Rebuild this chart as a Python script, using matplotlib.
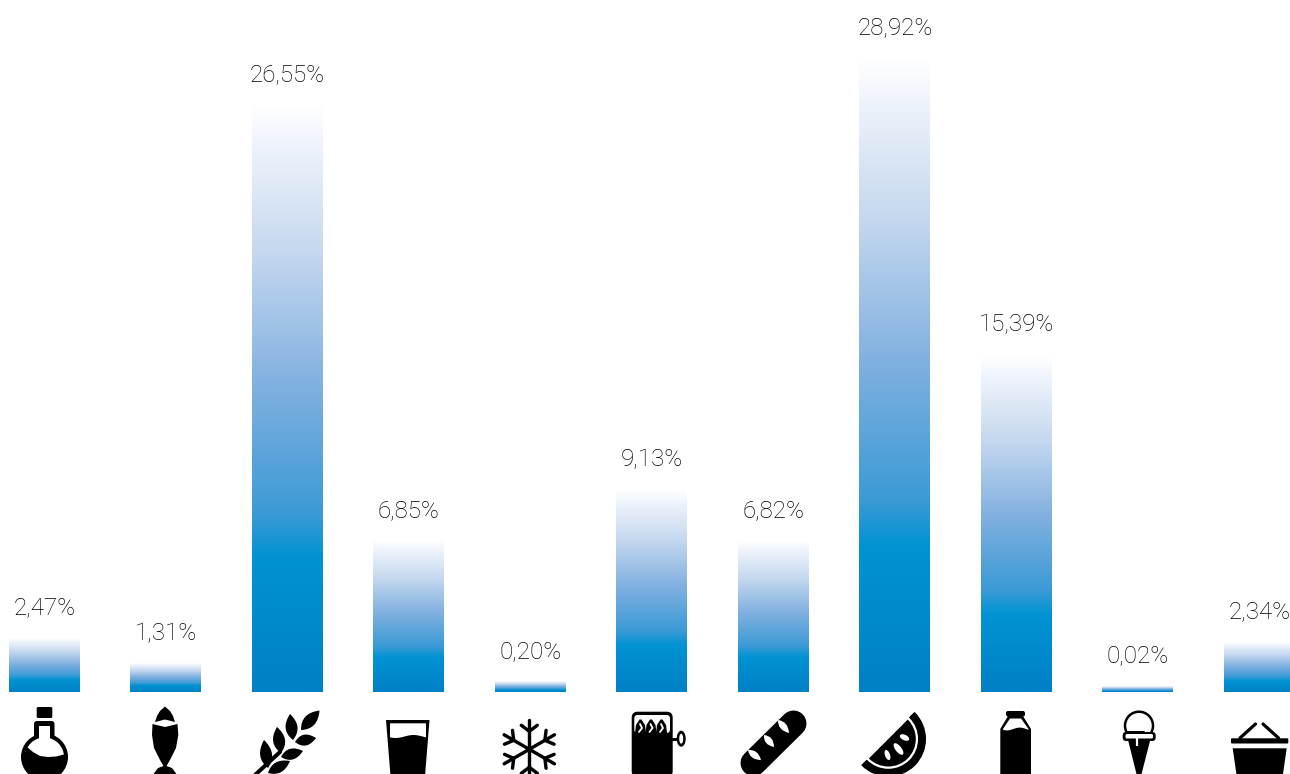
import numpy as np
import matplotlib
matplotlib.use("Agg")
import matplotlib.pyplot as plt
from matplotlib.colors import LinearSegmentedColormap
from matplotlib.patches import Circle, Ellipse, FancyBboxPatch, PathPatch, Polygon, Wedge
from matplotlib.path import Path

# --- data ---
categories = ["oil", "fish", "cereal", "drinks", "frozen", "tins", "bread",
              "fruit", "dairy", "ice cream", "other"]
values = [2.47, 1.31, 26.55, 6.85, 0.20, 9.13, 6.82, 28.92, 15.39, 0.02, 2.34]
# the drawn bars do not follow the printed numbers exactly, so heights are separate
bar_heights = [2.46, 1.28, 26.78, 6.89, 0.46, 9.22, 6.89, 28.92, 15.37, 0.27, 2.28]

W, H = 1290, 774
PX_PER_UNIT = 21.92
BASELINE = 692
STEP = 121.5
FIRST = 44.0
BAR_W = 70.5 / STEP

grad = LinearSegmentedColormap.from_list("bar", [
    (0.0, "#0080c6"), (0.228, "#0093d3"), (0.30, "#3a9ad5"), (0.52, "#80b0e0"),
    (0.75, "#c5d8ef"), (0.93, "#eef3fb"), (1.0, "#ffffff")])
ramp = np.linspace(0, 1, 256).reshape(-1, 1)

fig = plt.figure(figsize=(W / 100, H / 100), dpi=100)
ax = fig.add_axes([0, 0, 1, 1])

# --- bars with gradient + value labels ---
for i, (v, h) in enumerate(zip(values, bar_heights)):
    ax.imshow(ramp, cmap=grad, origin="lower", aspect="auto", interpolation="bilinear",
              extent=(i - BAR_W / 2, i + BAR_W / 2, 0, h), vmin=0, vmax=1)
    ax.annotate(f"{v:.2f}%".replace(".", ","), (i, h), xytext=(0.3, 21.9),
                textcoords="offset points", ha="center", va="center",
                fontsize=17.4, color="black", family="Roboto", weight="light")
ax.set_xlim(-FIRST / STEP, (W - FIRST) / STEP)
ax.set_ylim(-(H - BASELINE) / PX_PER_UNIT, BASELINE / PX_PER_UNIT)
ax.axis("off")

# --- icons, overlay axes in pixel units (y goes down) ---
ic = fig.add_axes([0, 0, 1, 1], facecolor="none")
ic.set_xlim(0, W)
ic.set_ylim(H, 0)
ic.axis("off")
K, Wt = "black", "white"


def poly(pts, col=K):
    return ic.add_patch(Polygon(pts, closed=True, fc=col, ec="none"))


def line(pts, lw=3.0, col=K, cap="round"):
    xs, ys = zip(*pts)
    # zorder 1 so that lines and patches stack in drawing order
    ic.plot(xs, ys, color=col, lw=lw * 0.72, solid_capstyle=cap, solid_joinstyle="round", zorder=1)


def rbox(x0, y0, x1, y1, r, col=K):
    return ic.add_patch(FancyBboxPatch((x0 + r, y0 + r), x1 - x0 - 2 * r, y1 - y0 - 2 * r,
                                       boxstyle=f"round,pad={r}", fc=col, ec="none"))


def leaf(p0, p1, width, col=K):
    # lens shape between two points
    p0, p1 = np.array(p0, float), np.array(p1, float)
    d = p1 - p0
    n = np.array([-d[1], d[0]]) / np.hypot(*d) * width
    a, b = p0 + d * 0.45 + n, p0 + d * 0.45 - n
    path = Path([p0, a, p1, b, p0, p0],
                [Path.MOVETO, Path.CURVE3, Path.CURVE3, Path.CURVE3, Path.CURVE3, Path.CLOSEPOLY])
    ic.add_patch(PathPatch(path, fc=col, ec="none"))


def wave(x0, x1, y, amp=1.5):
    # wavy liquid surface, left to right, as a list of points
    t = np.linspace(0, 1, 24)
    return list(zip(x0 + (x1 - x0) * t, y + amp * np.sin(t * 2 * np.pi + 0.6)))


# oil bottle
rbox(36.7, 707, 52.3, 718, 1.5)
rbox(34, 721, 54.5, 742, 3)
ic.add_patch(Circle((44.5, 757), 23.5, fc=K, ec="none"))
ic.add_patch(Circle((44.5, 757), 19.5, fc=Wt, ec="none"))
poly([(39, 726), (49.5, 726), (49.5, 742), (39, 742)], Wt)
arc = np.deg2rad(np.linspace(-5, 210, 40))
poly([(27, 747), (33, 752), (40, 756), (48, 757), (56, 756.5), (64, 754.5)]
     + list(zip(44.5 + 20 * np.cos(arc), 757 + 20 * np.sin(arc))))

# fish
poly([(165, 706.5), (170, 711), (173, 716), (175, 722), (165, 719.5), (155, 722), (157, 716), (160, 711)])
poly([(152.5, 724), (165, 727), (177.5, 724), (178.3, 735), (176, 748), (170, 760), (166.5, 766),
      (172, 768), (178, 776), (152, 776), (158, 768), (163.5, 766), (160, 760), (154, 748), (152, 735)])

# wheat
line([(255, 775), (280, 752)], 4)
leaf((268, 768), (264, 740), 12)
leaf((268, 773), (290, 761), 11)
leaf((281, 753), (277, 727), 12)
leaf((281, 757), (303, 751), 11)
leaf((293, 740), (290, 714), 12)
leaf((295, 742), (316, 738), 11)
leaf((301, 730), (319.5, 710.5), 12)

# glass
poly([(386, 720), (429.5, 720), (425, 776), (390.5, 776)])
poly(wave(390, 426, 736.5) + [(426, 723.3), (390, 723.3)], Wt)

# snowflake
cx, cy = 529.3, 749.3
for ang in np.deg2rad([90, 30, -30, -90, 150, 210]):
    u = np.array([np.cos(ang), -np.sin(ang)])
    n = np.array([-u[1], u[0]])
    c = np.array([cx, cy])
    line([c, c + u * 29], 3.4)
    mid = c + u * 18
    line([mid, mid + u * 6 + n * 8], 3.4)
    line([mid, mid + u * 6 - n * 8], 3.4)

# sardine tin
line([(672, 739), (678, 739)], 3)
ic.add_patch(Ellipse((681.2, 738.7), 9, 16, fc=K, ec="none"))
ic.add_patch(Ellipse((681.2, 738.7), 4, 10, fc=Wt, ec="none"))
rbox(631.7, 711.7, 672.7, 777, 6)
rbox(634.3, 715, 670, 733, 3.5, Wt)
for fx in (640.5, 651, 661.5):
    poly([(fx - 5.5, 733), (fx - 4.5, 725), (fx - 1, 719.5), (fx + 1, 719.5), (fx + 4.5, 725), (fx + 5.5, 733)])
    line([(fx - 0.5, 724), (fx + 1.5, 728), (fx - 1.5, 732)], 1.8, Wt)

# bread
line([(793.5, 723.5), (753.5, 763)], 26)
leaf((778, 720), (789, 733), 7, Wt)
leaf((764, 735), (774, 747), 7, Wt)
leaf((748, 750), (761, 760), 7, Wt)

# melon slice
mc = (888.3, 739)
ic.add_patch(Wedge(mc, 37, -45, 135, width=6.5, fc=K, ec=K, lw=1, joinstyle="round"))
ic.add_patch(Wedge(mc, 27.5, -45, 135, fc=K, ec="none"))
ic.add_patch(Ellipse((904.5, 737.5), 10, 5.5, angle=25, fc=Wt, ec="none"))
ic.add_patch(Ellipse((898.5, 749), 14, 6, angle=52, fc=Wt, ec="none"))
ic.add_patch(Ellipse((887.5, 755), 10.5, 5, angle=70, fc=Wt, ec="none"))

# milk bottle
rbox(1006, 711, 1025, 716.5, 2)
poly([(1008, 716), (1023, 716), (1031, 729), (1031, 776), (1000.3, 776), (1000.3, 729)])
poly(wave(1003, 1028.5, 729, 1.4) + [(1028.5, 729), (1021, 718.5), (1010, 718.5), (1003, 729)], Wt)

# ice cream
ic.add_patch(Circle((1139, 725.7), 14, fc=Wt, ec=K, lw=1.8))
poly([(1124, 733), (1154, 733), (1154, 742), (1124, 742)], Wt)
line([(1127, 731.5), (1144, 731.5)], 2.0)
rbox(1122.7, 732, 1155.7, 741, 3.5, K)
rbox(1125.5, 734, 1153, 738.5, 1.6, Wt)
poly([(1128.3, 741), (1150, 741), (1140.5, 778), (1137.5, 778)])
line([(1136.5, 737), (1136.5, 746)], 2.2, Wt, "butt")

# basket
line([(1240, 738), (1255.5, 724)], 3.2)
line([(1263, 724), (1278.5, 738)], 3.2)
rbox(1231, 738.3, 1288.3, 743.5, 1)
poly([(1232.7, 748.3), (1286.7, 748.3), (1282.7, 776), (1236.7, 776)])

fig.savefig("out.png", dpi=100)
